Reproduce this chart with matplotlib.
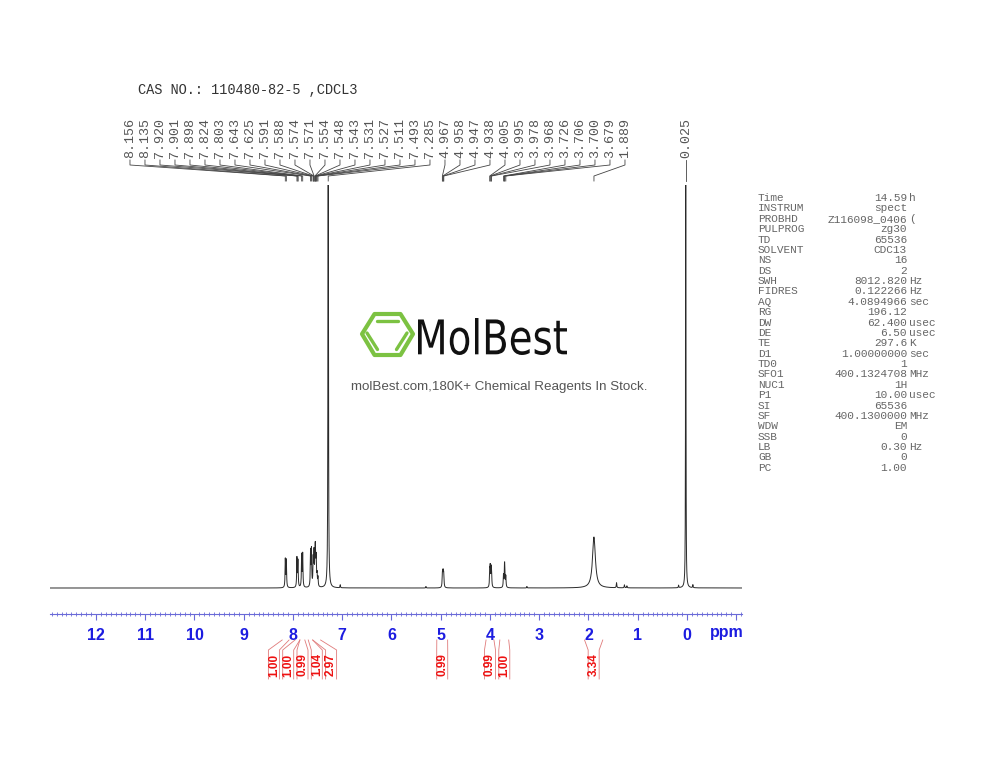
import numpy as np
import matplotlib
matplotlib.use("Agg")
import matplotlib.pyplot as plt
from matplotlib.patches import PathPatch, Polygon
from matplotlib.textpath import TextPath
from matplotlib.font_manager import FontProperties
from matplotlib.transforms import Affine2D

plt.rcParams['font.family'] = ['Liberation Sans', 'DejaVu Sans']

title = "CAS NO.: 110480-82-5 ,CDCL3"

# picked peaks printed above the spectrum (ppm)
peak_labels = [8.156, 8.135, 7.920, 7.901, 7.898, 7.824, 7.803, 7.643, 7.625,
               7.591, 7.588, 7.574, 7.571, 7.554, 7.548, 7.543, 7.531, 7.527,
               7.511, 7.493, 7.285, 4.967, 4.958, 4.947, 4.938, 4.005, 3.995,
               3.978, 3.968, 3.726, 3.706, 3.700, 3.679, 1.889, 0.025]

# lines of the trace: position (ppm), height, half width (ppm)
line_ppm = [8.156, 8.135, 7.920, 7.901, 7.898, 7.824, 7.803, 7.643, 7.625,
            7.591, 7.588, 7.574, 7.571, 7.554, 7.548, 7.543, 7.531, 7.527,
            7.511, 7.493, 7.285, 7.040, 5.300, 4.967, 4.958, 4.947, 4.938,
            4.005, 3.995, 3.978, 3.968, 3.726, 3.706, 3.700, 3.679, 3.250,
            1.889, 1.430, 1.270, 1.220, 0.170, 0.025, -0.120]
line_height = [28, 27, 29, 14, 14, 32, 33, 35, 36,
               14, 14, 17, 17, 20, 19, 19, 15, 15,
               11, 9, 900, 3, 1.5, 11, 12, 12, 11,
               15, 18, 17, 13, 12, 15.5, 15.5, 11, 1.5,
               51, 5, 3, 2, 2.5, 900, 3]
line_hw = [0.006] * 20 + [0.004, 0.005, 0.005] + [0.006] * 12 + [0.005,
           0.035, 0.006, 0.006, 0.006, 0.005, 0.003, 0.005]

# integrals
int_from = [8.22, 7.96, 7.86, 7.69, 7.60, 5.08, 4.08, 3.80, 2.08]
int_to = [8.08, 7.86, 7.76, 7.60, 7.44, 4.86, 3.92, 3.62, 1.71]
int_value = ["1.00", "1.00", "0.99", "1.04", "2.97", "0.99", "0.99", "1.00", "3.34"]

# acquisition parameters
param_names = ["Time", "INSTRUM", "PROBHD", "PULPROG", "TD", "SOLVENT", "NS", "DS",
               "SWH", "FIDRES", "AQ", "RG", "DW", "DE", "TE", "D1", "TD0", "SFO1",
               "NUC1", "P1", "SI", "SF", "WDW", "SSB", "LB", "GB", "PC"]
param_values = ["14.59", "spect", "Z116098_0406", "zg30", "65536", "CDC13", "16", "2",
                "8012.820", "0.122266", "4.0894966", "196.12", "62.400", "6.50",
                "297.6", "1.00000000", "1", "400.1324708", "1H", "10.00", "65536",
                "400.1300000", "EM", "0", "0.30", "0", "1.00"]
param_units = ["h", "", "(", "", "", "", "", "", "Hz", "Hz", "sec", "", "usec", "usec",
               "K", "sec", "", "MHz", "", "usec", "", "MHz", "", "", "Hz", "", ""]

fig = plt.figure(figsize=(10, 7.73), dpi=100)
ax = fig.add_axes([0.05, (773 - 614) / 773, 0.692, (614 - 185) / 773])
ax.set_xlim(12.934, -1.117)
ax.set_ylim(-26, 403)

ppm = np.arange(-1.2, 13.0, 0.0005)
trace = np.zeros_like(ppm)
for p, h, w in zip(line_ppm, line_height, line_hw):
    trace += h * w ** 2 / ((ppm - p) ** 2 + w ** 2)
ax.plot(ppm, trace, color='#2a2a2a', lw=0.7)

for s in ['top', 'left', 'right']:
    ax.spines[s].set_visible(False)
ax.spines['bottom'].set_color('#6a6ad8')
ax.spines['bottom'].set_linewidth(0.8)
ax.set_yticks([])
ax.set_xticks(np.arange(-1, 13))
ax.set_xticklabels([''] + [str(i) for i in range(0, 13)], fontweight='bold')
ax.set_xticks(np.arange(-1.1, 12.95, 0.1), minor=True)
ax.tick_params(axis='x', which='major', direction='out', length=4, width=0.8,
               color='#6a6ad8', labelcolor='#1c1ce0', labelsize=11.5, pad=6)
ax.tick_params(axis='x', which='minor', direction='inout', length=2.5, width=0.6,
               color='#6a6ad8')

# overlay in pixel coordinates for the annotations
ov = fig.add_axes([0, 0, 1, 1])
ov.set_xlim(0, 1000)
ov.set_ylim(773, 0)
ov.axis('off')
ov.patch.set_alpha(0)


def to_px(vals):
    vals = np.asarray(vals, dtype=float)
    return ax.transData.transform(np.column_stack([vals, np.zeros_like(vals)]))[:, 0]


def spread(xs, gap):
    clusters = [[x] for x in xs]
    while True:
        pos = []
        for c in clusters:
            m = np.mean(c)
            n = len(c)
            pos.append([m + (i - (n - 1) / 2) * gap for i in range(n)])
        merged = False
        for k in range(len(clusters) - 1):
            if pos[k][-1] + gap > pos[k + 1][0]:
                clusters[k] = clusters[k] + clusters[k + 1]
                del clusters[k + 1]
                merged = True
                break
        if not merged:
            return [p for grp in pos for p in grp]


ov.text(138, 90, title, family='Liberation Mono', fontsize=9.8, color='#333333',
        ha='left', va='center')

# peak labels
pk_px = to_px(peak_labels)
lab_px = spread(list(pk_px), 15.0)
for v, px, lx in zip(peak_labels, pk_px, lab_px):
    ov.text(lx, 158, "%.3f" % v, rotation=90, family='Liberation Mono', fontsize=9.6,
            color='#555555', ha='center', va='bottom')
    ov.plot([lx, lx, px, px], [160, 165, 176, 181], color='#444444', lw=0.6)

# integrals
a_px = to_px(int_from)
b_px = to_px(int_to)
mid = list((a_px + b_px) / 2)
c_px = spread(mid, 14.3)
for a, b, c, t in zip(a_px, b_px, c_px, int_value):
    ov.plot([a, c - 5.5, c - 5.5], [640, 650, 679], color='#e07a7a', lw=0.6)
    ov.plot([b, c + 5.5, c + 5.5], [640, 650, 679], color='#e07a7a', lw=0.6)
    ov.text(c, 665, t, rotation=90, color='#ee1111', fontsize=8.5, fontweight='bold',
            ha='center', va='center')

ov.text(727, 633, "ppm", color='#1c1ce0', fontsize=11.5, fontweight='bold',
        ha='center', va='center')

# parameter table
for i, (n, v, u) in enumerate(zip(param_names, param_values, param_units)):
    y = 198 + i * 10.38
    ov.text(758, y, n, family='Liberation Mono', fontsize=8.0, color='#666666',
            ha='left', va='center')
    ov.text(907, y, v, family='Liberation Mono', fontsize=8.0, color='#666666',
            ha='right', va='center')
    if u:
        ov.text(909, y, u, family='Liberation Mono', fontsize=8.0, color='#666666',
                ha='left', va='center')

# watermark logo
green = '#7cc242'
hexagon = Polygon([(362, 334), (374.5, 314), (400.5, 314), (413, 334),
                   (400.5, 355), (374.5, 355)], closed=True, fill=False,
                  edgecolor=green, lw=3.0, joinstyle='round')
ov.add_patch(hexagon)
for xs, ys in [([377, 398], [320.5, 320.5]), ([367, 377.5], [333, 349.5]),
               ([407, 396.5], [333, 349.5])]:
    ov.plot(xs, ys, color=green, lw=2.4, solid_capstyle='round')

tp = TextPath((0, 0), "MolBest", prop=FontProperties(family='DejaVu Sans'), size=10)
ext = tp.get_extents()
tr = (Affine2D().translate(-ext.x0, -ext.y0)
      .scale((567 - 418) / ext.width, -(355 - 318) / ext.height)
      .translate(418, 355))
ov.add_patch(PathPatch(tr.transform_path(tp), facecolor='#111111', edgecolor='none'))
ov.text(499, 387, "molBest.com,180K+ Chemical Reagents In Stock.", color='#555555',
        fontsize=9.6, ha='center', va='center')

fig.savefig("out.png", dpi=100)
